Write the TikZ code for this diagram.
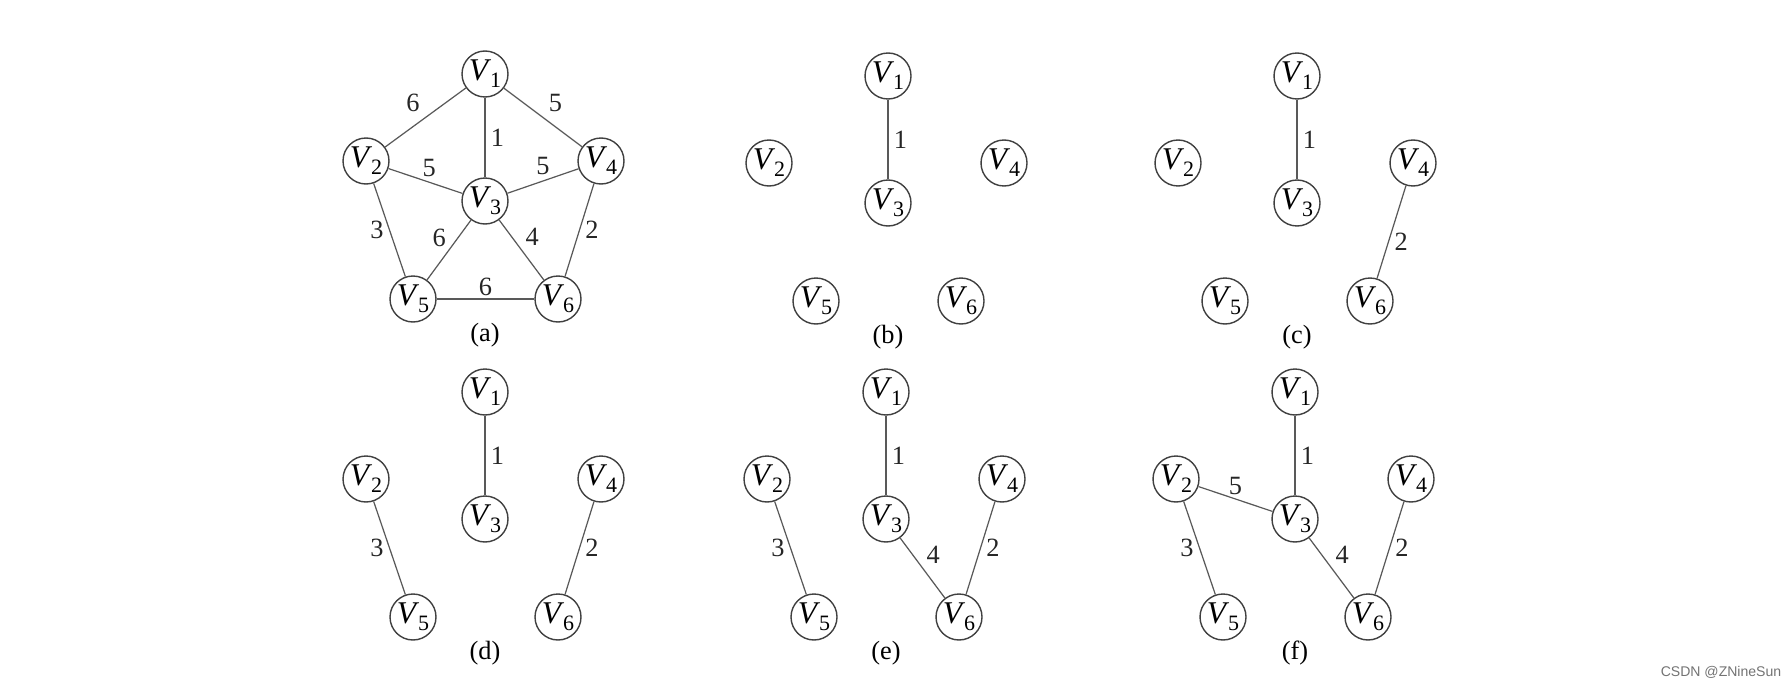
\documentclass[tikz,border=0pt]{standalone}
\usepackage{fontspec}
\setmainfont{Liberation Serif}
\setsansfont{Liberation Sans}
\newcommand{\vname}[1]{\textit{V}\kern-0.04em\raisebox{-4pt}{\fontsize{12.5}{12.5}\selectfont #1}}
\tikzset{
vertex/.style={circle, draw=black!75, line width=0.8pt, minimum size=0.92cm, inner sep=0pt, font=\fontsize{18}{18}\selectfont}, % one vertex of a graph
weight/.style={font=\fontsize{15}{15}\selectfont, inner sep=3pt, text=black!85}, % edge weights
every edge/.style={draw=black!65, line width=0.7pt},
caption/.style={font=\fontsize{15}{15}\selectfont},
}
\begin{document}
\begin{tikzpicture}[x=0.02cm, y=-0.02cm]
    \useasboundingbox (0,0) rectangle (1787,686);
    % six copies of the same six vertices
    \foreach \p/\x/\y in {a/485/74, b/888/76, c/1297/76, d/485/392, e/886/392, f/1295/392}{
        \node[vertex] (\p1) at (\x,\y) {\vname{1}};
        \node[vertex] (\p2) at (\x-119,\y+87) {\vname{2}};
        \node[vertex] (\p3) at (\x,\y+127) {\vname{3}};
        \node[vertex] (\p4) at (\x+116,\y+87) {\vname{4}};
        \node[vertex] (\p5) at (\x-72,\y+225) {\vname{5}};
        \node[vertex] (\p6) at (\x+73,\y+225) {\vname{6}};
        \node[caption] (\p cap) at (\x,\y+261) {(\p)};
    }
    \draw
    (a1) edge node[weight, above left]{6} (a2)
    (a1) edge node[weight, above right]{5} (a4)
    (a1) edge node[weight, right]{1} (a3)
    (a2) edge node[weight, above, pos=0.55]{5} (a3)
    (a3) edge node[weight, above, pos=0.5]{5} (a4)
    (a2) edge node[weight, left]{3} (a5)
    (a3) edge node[weight, above left, inner sep=1.5pt]{6} (a5)
    (a3) edge node[weight, above right, inner sep=2pt]{4} (a6)
    (a4) edge node[weight, right]{2} (a6)
    (a5) edge node[weight, above, inner sep=1.5pt]{6} (a6)
    (b1) edge node[weight, right]{1} (b3)
    (c1) edge node[weight, right]{1} (c3)
    (c4) edge node[weight, right, pos=0.6]{2} (c6)
    (d1) edge node[weight, right]{1} (d3)
    (d2) edge node[weight, left]{3} (d5)
    (d4) edge node[weight, right]{2} (d6)
    (e1) edge node[weight, right]{1} (e3)
    (e2) edge node[weight, left]{3} (e5)
    (e4) edge node[weight, right]{2} (e6)
    (e3) edge node[weight, above right, inner sep=2pt]{4} (e6)
    (f1) edge node[weight, right]{1} (f3)
    (f2) edge node[weight, above, inner sep=2pt]{5} (f3)
    (f2) edge node[weight, left]{3} (f5)
    (f4) edge node[weight, right]{2} (f6)
    (f3) edge node[weight, above right, inner sep=2pt]{4} (f6)
    ;
    \node[font=\sffamily\fontsize{8}{8}\selectfont, text=black!55] (mark) at (1721,672) {CSDN @ZNineSun};
\end{tikzpicture}
\end{document}
